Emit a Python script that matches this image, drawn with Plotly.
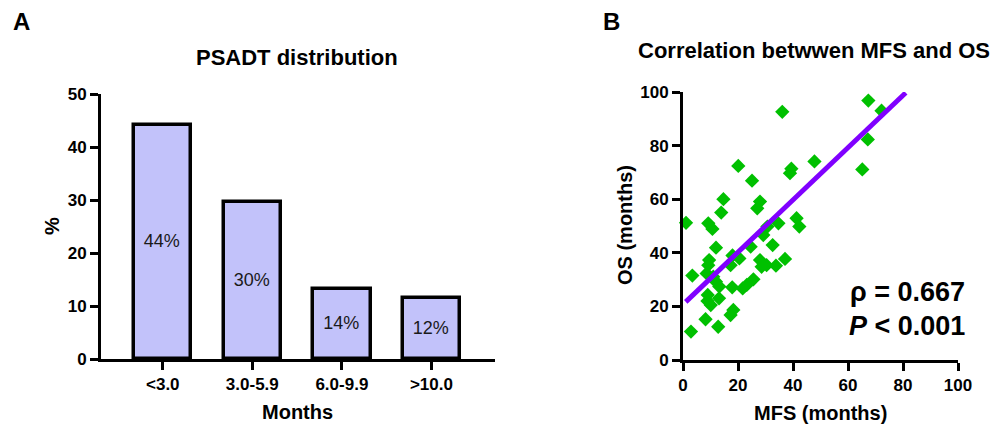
import plotly.graph_objects as go

W, H = 998, 426
FONT = "Arial, Liberation Sans, sans-serif"

# ---- Panel A data ----
categories = ["<3.0", "3.0-5.9", "6.0-9.9", ">10.0"]
percent = [44.2, 29.6, 13.3, 11.6]
percent_labels = ["44%", "30%", "14%", "12%"]

# ---- Panel B data ----
mfs = [67.4, 72.2, 36.1, 67.2, 65.2, 47.8, 39.4, 38.9, 20.1, 25.1,
       14.7, 13.9, 28.0, 27.0, 1.1, 9.2, 10.7, 41.3, 42.3, 34.7,
       30.7, 29.2, 32.6, 24.6, 12.0, 20.5, 17.3, 28.0, 28.6, 30.4,
       33.8, 37.1, 9.5, 9.2, 3.4, 8.6, 11.0, 12.0, 13.2, 17.9,
       21.7, 23.2, 25.6, 9.0, 13.1, 10.1, 18.3, 17.3, 8.2, 12.8,
       2.9, 8.9, 18.0]
os_ = [96.8, 93.0, 92.6, 82.3, 71.1, 74.1, 71.4, 69.7, 72.4, 66.9,
       60.0, 55.0, 59.1, 56.6, 51.2, 51.0, 48.9, 52.9, 49.8, 51.0,
       49.8, 46.6, 42.9, 42.3, 41.9, 37.9, 35.4, 37.3, 34.8, 35.4,
       35.2, 37.7, 37.3, 35.4, 31.5, 32.3, 31.1, 29.2, 27.4, 27.1,
       26.7, 28.0, 30.1, 24.3, 23.0, 20.5, 18.7, 16.8, 15.2, 12.4,
       10.6, 22.0, 39.0]
fit_x = [1.0, 81.0]
fit_y = [21.7, 99.7]
x_ticks_b = [0, 20, 40, 60, 80, 100]
y_ticks_b = [0, 20, 40, 60, 80, 100]
y_ticks_a = [0, 10, 20, 30, 40, 50]


def px(x):
    return x / W


def py(y):
    return 1 - y / H


fig = go.Figure()

fig.add_trace(go.Bar(
    x=list(range(len(categories))), y=percent, text=percent_labels,
    textposition="inside", insidetextanchor="middle",
    textfont=dict(family=FONT, size=18, color="#1a1a1a"),
    marker=dict(color="#c2c2fa", line=dict(color="black", width=3.5)),
    width=0.64, xaxis="x", yaxis="y", showlegend=False, cliponaxis=False,
))

fig.add_trace(go.Scatter(
    x=mfs, y=os_, mode="markers", xaxis="x2", yaxis="y2",
    marker=dict(symbol="diamond", size=11, color="#00c000", line=dict(width=0)),
    showlegend=False, cliponaxis=False,
))
fig.add_trace(go.Scatter(
    x=fit_x, y=fit_y, mode="lines", xaxis="x2", yaxis="y2",
    line=dict(color="#8000ff", width=5), showlegend=False, cliponaxis=False,
))

tickfont = dict(family=FONT, size=17, color="black", weight="bold")
axis_common = dict(showline=True, linecolor="black", linewidth=3,
                   ticks="outside", ticklen=8, tickwidth=3, tickcolor="black",
                   showgrid=False, zeroline=False, tickfont=tickfont,
                   fixedrange=True, automargin=False)

fig.update_layout(
    width=W, height=H, margin=dict(l=0, r=0, t=0, b=0),
    paper_bgcolor="white", plot_bgcolor="white",
    font=dict(family=FONT, color="black"),
    xaxis=dict(domain=[px(101), px(495)], range=[-0.69, 3.71],
               tickvals=list(range(len(categories))), ticktext=categories,
               anchor="y", **axis_common),
    yaxis=dict(domain=[py(359), py(94)], range=[0, 50], tickvals=y_ticks_a,
               anchor="x", **axis_common),
    xaxis2=dict(domain=[px(683), px(958)], range=[0, 100], tickvals=x_ticks_b,
                anchor="y2", **axis_common),
    yaxis2=dict(domain=[py(360), py(92)], range=[0, 100], tickvals=y_ticks_b,
                anchor="x2", **axis_common),
    bargap=0,
)

def ann(text, x, y, size, bold=True, angle=0, xanchor="center"):
    fig.add_annotation(
        text=text, x=px(x), y=py(y), xref="paper", yref="paper",
        showarrow=False, xanchor=xanchor, yanchor="middle", textangle=angle,
        font=dict(family=FONT, size=size, color="black",
                  weight="bold" if bold else "normal"),
    )

ann("A", 21, 22, 24)
ann("B", 611, 21, 24)
ann("PSADT distribution", 296.5, 58, 22)
ann("Correlation betwwen MFS and OS", 814, 50, 22)
ann("Months", 297, 412, 20)
ann("MFS (months)", 820, 413, 20)
ann("%", 52, 226, 20, angle=-90)
ann("OS (months)", 625, 225, 20, angle=-90)
ann("ρ = 0.667", 967, 292, 27, xanchor="right")
ann("<i>P</i> < 0.001", 967, 326, 27, xanchor="right")

fig.write_html(
    "out.html",
    config={"displayModeBar": False},
    post_script="document.body.style.margin='0';document.body.style.overflow='hidden';",
)
